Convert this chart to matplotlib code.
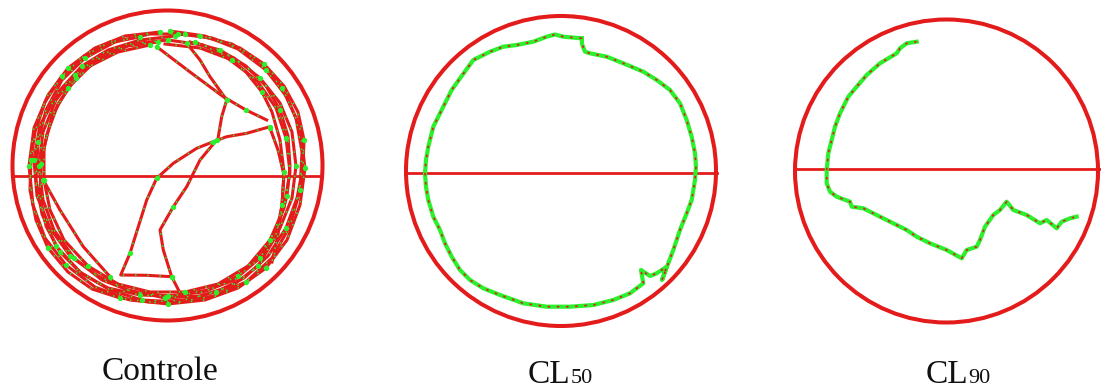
import matplotlib.pyplot as plt
from matplotlib.patches import Circle
import numpy as np

RED = '#e31b1b'
GREEN = '#2cf02c'

# arena outlines: centre x, centre y, radius, midline y (pixels)
arena_cx = [167.5, 561.0, 946.5]
arena_cy = [165.5, 171.0, 171.0]
arena_r = [155.0, 155.0, 151.5]
midline_y = [175.7, 172.7, 169.3]
midline_x = [(12, 322), (405, 717), (796, 1101)]

labels = ['Controle', 'CL', 'CL']
label_sub = ['', '50', '90']
label_x = [102, 528, 926]
label_y = [380, 383, 383]

# ---- Controle: several laps along the wall plus crossings
ctrl_lap1_x = [160, 125, 95, 68, 48, 34, 29, 33, 45, 66, 95, 130, 168, 205, 238, 266, 287, 300, 305, 300, 287, 266, 238, 205, 170]
ctrl_lap1_y = [32, 36, 48, 68, 95, 128, 166, 205, 238, 265, 287, 300, 304, 300, 288, 268, 240, 205, 168, 128, 97, 70, 49, 36, 31]
ctrl_lap2_x = [168, 130, 100, 75, 56, 43, 39, 43, 54, 74, 102, 133, 168, 203, 234, 260, 280, 292, 296, 292, 280, 260, 234, 203, 168]
ctrl_lap2_y = [40, 44, 55, 75, 100, 132, 166, 200, 230, 258, 280, 292, 296, 292, 280, 258, 228, 198, 166, 132, 103, 78, 58, 45, 40]
ctrl_lap3_x = [150, 118, 90, 68, 52, 44, 44, 50, 64, 88, 118, 150, 185, 218, 248, 270, 284, 290, 286, 276, 258, 232, 200, 165]
ctrl_lap3_y = [45, 52, 66, 88, 116, 148, 180, 210, 240, 266, 284, 292, 292, 284, 266, 240, 208, 172, 138, 108, 82, 60, 48, 44]
ctrl_lap4_x = [175, 140, 108, 82, 60, 40, 34, 37, 50, 70, 98, 128, 165, 200, 232, 258, 276, 282, 284, 280, 272, 262, 246, 222, 195]
ctrl_lap4_y = [36, 40, 50, 66, 90, 125, 160, 196, 228, 256, 276, 290, 298, 296, 286, 266, 236, 205, 172, 140, 112, 92, 72, 54, 42]
ctrl_lap5_x = [185, 150, 115, 85, 62, 46, 38, 36, 42, 56, 80, 110, 142, 178, 214, 246, 272, 290, 300, 302, 296, 282, 260, 232, 200]
ctrl_lap5_y = [34, 34, 42, 58, 80, 110, 142, 180, 214, 246, 272, 290, 300, 302, 296, 282, 258, 226, 190, 152, 118, 88, 62, 44, 36]
ctrl_lap6_x = [140, 110, 84, 62, 45, 35, 31, 30, 36, 48, 68, 92, 120, 150, 184, 216, 244, 268, 286, 297, 303, 304, 298, 284, 264, 240, 212, 178]
ctrl_lap6_y = [37, 42, 56, 76, 102, 132, 160, 190, 220, 248, 272, 289, 298, 302, 300, 292, 278, 256, 228, 198, 168, 140, 112, 86, 64, 48, 38, 34]
ctrl_lap7_x = [158, 128, 100, 76, 58, 47, 41, 40, 46, 60, 82, 108, 140, 174, 208, 238, 262, 278, 287, 290, 288, 280, 266, 246, 220, 190]
ctrl_lap7_y = [42, 46, 58, 78, 104, 134, 164, 196, 226, 252, 274, 288, 295, 296, 290, 276, 254, 226, 196, 166, 136, 110, 86, 66, 50, 42]
ctrl_cross_a_x = [156.7, 190, 223.3, 246, 266.7]
ctrl_cross_a_y = [46.7, 72, 96.7, 110, 120]
ctrl_cross_b_x = [186.7, 200, 210, 226.7, 221.7, 218.3]
ctrl_cross_b_y = [43.3, 60, 76.7, 100, 116.7, 136.7]
ctrl_cross_c_x = [270, 246.7, 226.7, 213.3, 196.7, 173.3, 156.7, 146.7, 138.3, 130, 120.7, 146.7, 171.7]
ctrl_cross_c_y = [126.7, 133.3, 136.7, 141.7, 148.3, 163.3, 178.3, 200, 226.7, 253.3, 275, 275.3, 276.7]
ctrl_cross_d_x = [216.7, 200, 186.7, 173.3, 160, 163.3, 171.7, 180]
ctrl_cross_d_y = [140, 160, 186.7, 206.7, 230, 250, 276.7, 293]
ctrl_cross_e_x = [43.3, 60, 83.3, 110]
ctrl_cross_e_y = [180, 210, 246.7, 276.7]
ctrl_cross_f_x = [270, 278, 284, 282, 278, 272]
ctrl_cross_f_y = [128, 150, 175, 205, 235, 262]

# ---- CL50: one lap hugging the wall
cl50_x = [581.7, 572, 563.3, 555, 546.7, 533.3, 516.7, 503.3, 490, 473.3, 460, 451.7, 443.3, 433.3, 428.3, 426, 425,
          426, 428.3, 433.3, 440, 445, 451.7, 460, 470, 483.3, 500, 523.3, 546.7, 570, 593.3, 613.3, 630,
          643.3, 641, 650, 656.7, 666.7, 662, 673.3, 680, 686.7, 691.7, 695, 696, 695, 691.7, 686.7, 680,
          670, 656.7, 643.3, 623.3, 606.7, 590, 585, 582, 581.7]
cl50_y = [38.3, 37.5, 36.7, 34.5, 36.7, 41.7, 45, 46.7, 51.7, 60, 78.3, 90, 106.7, 126.7, 146.7, 160, 173.3,
          186.7, 200, 216.7, 230, 243.3, 256.7, 270, 280, 288.3, 295, 303.3, 306.7, 306.7, 305, 300, 293.3,
          283.3, 270, 276, 273.3, 266.7, 280, 250, 230, 213.3, 200, 180, 166.7, 153.3, 136.7, 120, 103.3,
          90, 80, 71.7, 63.3, 56.7, 53.3, 51.7, 44, 38.3]

# ---- CL90: short path from the top down the left wall and across
cl90_x = [916.7, 906.7, 900, 896.7, 880, 866.7, 856.7, 848.3, 840, 835, 831.7, 828.3, 826.7, 826.7, 830,
          836.7, 850, 851.7, 863.3, 880, 896.7, 906.7, 916.7, 930, 946.7, 961.7, 966.7, 976.7, 980, 985,
          993.3, 1000, 1006.7, 1013.3, 1026.7, 1040, 1046.7, 1056.7, 1061.7, 1070, 1076.7]
cl90_y = [41.7, 43.3, 48.3, 53.3, 63.3, 75, 86.7, 96.7, 113.3, 126.7, 140, 153.3, 170, 183.3, 191.7,
          196.7, 201.7, 206.7, 208.3, 216.7, 225, 230, 236.7, 243.3, 250, 258.3, 250, 246.7, 240, 226.7,
          215, 210, 201.7, 210, 215, 223.3, 220, 228.3, 221.7, 218.3, 216.7]

fig = plt.figure(figsize=(11.01, 3.9), dpi=100)
ax = fig.add_axes([0, 0, 1, 1])
ax.set_xlim(0, 1101)
ax.set_ylim(390, 0)
ax.axis('off')

for cx, cy, r, my, (x0, x1) in zip(arena_cx, arena_cy, arena_r, midline_y, midline_x):
    ax.add_patch(Circle((cx, cy), r, fill=False, ec=RED, lw=2.9, zorder=1))
    ax.plot([x0, x1], [my, my], color=RED, lw=2.0, zorder=1)

# control: red track with green speckles
ctrl_tracks = [
    (ctrl_lap1_x, ctrl_lap1_y), (ctrl_lap2_x, ctrl_lap2_y), (ctrl_lap3_x, ctrl_lap3_y),
    (ctrl_lap4_x, ctrl_lap4_y), (ctrl_lap5_x, ctrl_lap5_y), (ctrl_lap6_x, ctrl_lap6_y),
    (ctrl_lap7_x, ctrl_lap7_y),
    (ctrl_cross_a_x, ctrl_cross_a_y), (ctrl_cross_b_x, ctrl_cross_b_y), (ctrl_cross_c_x, ctrl_cross_c_y),
    (ctrl_cross_d_x, ctrl_cross_d_y), (ctrl_cross_e_x, ctrl_cross_e_y), (ctrl_cross_f_x, ctrl_cross_f_y),
]
for tx, ty in ctrl_tracks:
    ax.plot(tx, ty, color=RED, lw=2.2, zorder=2, solid_joinstyle='round')
    ax.plot(tx[::3], ty[::3], ls='none', marker='o', ms=2.8, mfc=GREEN, mec=GREEN, zorder=3)
    ax.plot(tx, ty, color=GREEN, lw=1.1, ls=(0, (1, 7)), zorder=3)

# treated groups: green track with red flecks
for tx, ty in [(cl50_x, cl50_y), (cl90_x, cl90_y)]:
    ax.plot(tx, ty, color=GREEN, lw=3.0, zorder=2, solid_joinstyle='round')
    ax.plot(tx, ty, color=RED, lw=1.2, ls=(0, (1.5, 4)), zorder=3)

for lab, sub, x, y in zip(labels, label_sub, label_x, label_y):
    t = ax.text(x, y, lab, fontsize=24, family='Liberation Serif', ha='left', va='baseline', color='#111111')
    if sub:
        fig.canvas.draw()
        bb = t.get_window_extent().transformed(ax.transData.inverted())
        ax.text(bb.x1, y, sub, fontsize=16, family='Liberation Serif', ha='left', va='baseline', color='#111111')

fig.savefig('out.png', dpi=100)
